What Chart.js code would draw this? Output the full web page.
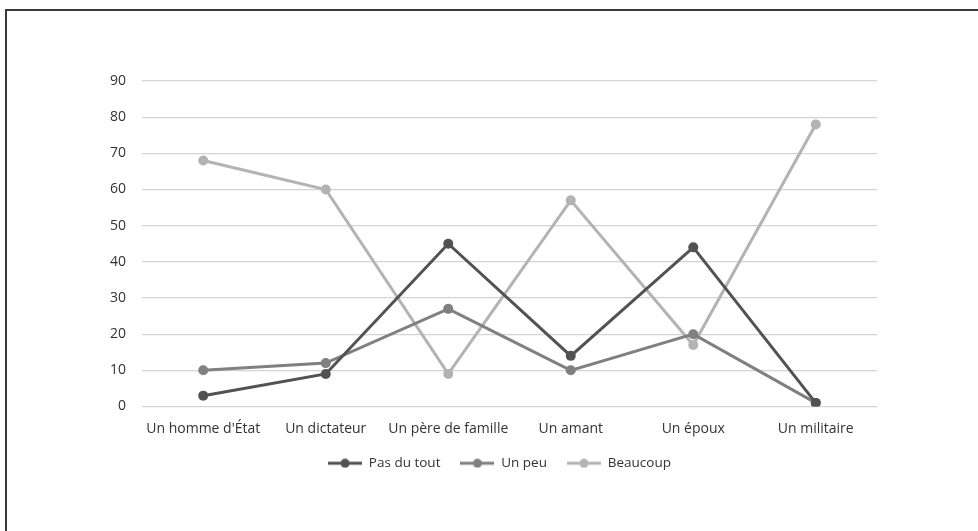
<!DOCTYPE html>
<html lang="fr">
  <head>
    <meta charset="UTF-8" />
    <title>Line chart</title>
    <script src="https://cdn.jsdelivr.net/npm/chart.js@4.5.0/dist/chart.umd.min.js"></script>
    <style>
      html, body { margin: 0; padding: 0; background: #fff; }
      #wrap { position: relative; width: 978px; height: 531px; }
      #frame {
        position: absolute; left: 5px; top: 9px; right: -5px; bottom: -5px;
        border-left: 2px solid #3a3a3a; border-top: 2px solid #3a3a3a;
      }
      canvas { position: absolute; left: 0; top: 0; }
    </style>
  </head>
  <body>
    <div id="wrap">
      <div id="frame"></div>
      <canvas id="myChart" width="978" height="531"></canvas>
    </div>

    <script>
      const categories = ["Un homme d'État", "Un dictateur", "Un père de famille", "Un amant", "Un époux", "Un militaire"];
      const pasDuTout = [3, 9, 45, 14, 44, 1];
      const unPeu = [10, 12, 27, 10, 20, 1];
      const beaucoup = [68, 60, 9, 57, 17, 78];
      const seriesNames = ["Pas du tout", "Un peu", "Beaucoup"];
      const colors = ["#525252", "#808080", "#b3b3b3"];

      const FONT = "'Open Sans', sans-serif";
      const TEXT = "#333333";

      // small line + dot images for the legend
      function legendIcon(color) {
        const c = document.createElement("canvas");
        c.width = 34;
        c.height = 10;
        const g = c.getContext("2d");
        g.strokeStyle = color;
        g.lineWidth = 3;
        g.beginPath();
        g.moveTo(0, 5);
        g.lineTo(34, 5);
        g.stroke();
        g.fillStyle = color;
        g.beginPath();
        g.arc(17, 5, 4.5, 0, Math.PI * 2);
        g.fill();
        return c;
      }

      // the legend sits a little right of the plot centre in the original
      const legendNudge = {
        id: "legendNudge",
        afterLayout(chart) {
          chart.legend.left += 11;
          chart.legend.right += 11;
        },
      };

      const ctx = document.getElementById("myChart");

      new Chart(ctx, {
        type: "line",
        data: {
          labels: categories,
          datasets: [pasDuTout, unPeu, beaucoup].map((d, i) => ({
            label: seriesNames[i],
            data: d,
            borderColor: colors[i],
            backgroundColor: colors[i],
            borderWidth: 3,
            pointRadius: 5,
            pointBorderWidth: 0,
            pointHoverRadius: 5,
            tension: 0,
          })),
        },
        plugins: [legendNudge],
        options: {
          responsive: false,
          animation: false,
          devicePixelRatio: 1,
          layout: { padding: { left: 100, right: 101, top: 81, bottom: 51 } },
          plugins: {
            tooltip: { enabled: false },
            legend: {
              position: "bottom",
              labels: {
                color: TEXT,
                font: { family: FONT, size: 13.5 },
                usePointStyle: true,
                pointStyleWidth: 34,
                padding: 20,
                generateLabels: (chart) =>
                  Chart.defaults.plugins.legend.labels
                    .generateLabels(chart)
                    .map((l, i) => ({ ...l, pointStyle: legendIcon(colors[i]) })),
              },
            },
          },
          scales: {
            x: {
              offset: true,
              grid: { display: false },
              border: { display: false },
              ticks: {
                color: TEXT,
                font: { family: FONT, size: 14 },
                padding: 6,
                maxRotation: 0,
                autoSkip: false,
              },
              afterFit: (s) => { s.height = 30; },
            },
            y: {
              min: 0,
              max: 90,
              grid: { color: "#d4d4d4", lineWidth: 1.3, drawTicks: false },
              border: { display: false },
              ticks: { stepSize: 10, color: TEXT, font: { family: FONT, size: 14 }, padding: 16 },
              afterFit: (s) => { s.width = 42; },
            },
          },
        },
      });
    </script>
  </body>
</html>
